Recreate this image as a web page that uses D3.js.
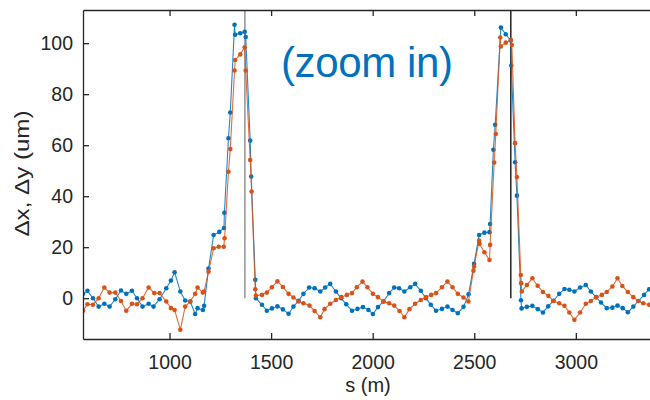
<!DOCTYPE html>
<html>
<head>
<meta charset="utf-8">
<title>Orbit difference</title>
<script src="https://cdn.jsdelivr.net/npm/d3@7"></script>
<style>
body {
	margin: 0;
	background: #fff;
}

svg text {
	font-family: "Liberation Sans", Arial, sans-serif;
	fill: #262626;
}

.axis path, .axis line {
	stroke: #262626;
	stroke-width: 1.3px;
}

.trace {
	fill: none;
	stroke-width: 1.1px;
	stroke-opacity: 0.85;
}
</style>
</head>
<body>
<div id="chart"></div>
<script>
// s positions (m) and offsets (um)
var sX = [574, 596, 623, 651, 679, 705, 733, 761, 787, 815, 840, 867, 897, 921, 951, 984,
	1007, 1025, 1053, 1077, 1102, 1126, 1138, 1164, 1170, 1192, 1217, 1245, 1268, 1270,
	1290, 1299, 1320, 1323, 1348, 1370, 1375, 1397, 1402, 1422, 1425, 1455, 1479, 1504,
	1531, 1558, 1586, 1610, 1635, 1659, 1687, 1714, 1742, 1766, 1791, 1819, 1845, 1870,
	1898, 1925, 1952, 1979, 2001, 2026, 2053, 2081, 2106, 2130, 2156, 2185, 2209, 2237,
	2262, 2286, 2312, 2341, 2368, 2393, 2419, 2447, 2472, 2499, 2524, 2550, 2575, 2578,
	2594, 2603, 2631, 2655, 2680, 2682, 2701, 2710, 2730, 2733, 2759, 2786, 2813, 2838,
	2864, 2890, 2918, 2944, 2968, 2993, 3021, 3049, 3074, 3100, 3124, 3152, 3180, 3205,
	3231, 3256, 3283, 3308, 3336, 3361, 3388];
var dx = [1.7, 2.9, 0, -3.3, -2.2, -3.3, -0.4, 3, 1.7, 2.9, 0, -3.3, -2.2, -3.3, -0.4, 3.9,
	6.9, 10.2, 2.6, -0.9, -1.3, -6.2, -3.9, -4.6, -3.0, 11.6, 24.8, 26, 27.5, 33.5,
	62.7, 72.8, 107.2, 103.3, 103.9, 104.5, 102.4, 61.8, 47.7, 7.2, 0, -2.6, -4.9, -4,
	-3.2, -4.4, -6.1, -3.3, -1, 1.7, 4.2, 3.9, 2.6, 4.2, 5.6, 2.6, 0, -2.4,
	-4.9, -4.2, -3.5, -4.6, -6.2, -3.5, -1.3, 2, 4.2, 3.9, 2.6, 4.3, 5.6, 2.9,
	0, -2.6, -4.9, -4.2, -3.3, -4.6, -5.9, -3.4, 1.5, 13.5, 24.8, 25.7, 25.9, 29.1,
	58.2, 68, 106.1, 103.5, 101, 91.2, 53.3, 40.2, -0.8, -4.0, -3.4, -3, -4.3, -5.6,
	-3.2, -1, 1.7, 3.6, 3.3, 2.6, 4.2, 5.2, 2.6, 0.4, -1.7, -3.9, -3.7, -2.9,
	-3.9, -5.5, -3.3, -1.1, 1.3, 3.5, 5];

var sY = [574, 596, 623, 651, 679, 705, 733, 761, 787, 815, 840, 867, 897, 925, 951, 984,
	1007, 1025, 1053, 1077, 1102, 1126, 1138, 1164, 1170, 1192, 1217, 1242, 1267, 1271,
	1290, 1299, 1320, 1323, 1348, 1370, 1375, 1397, 1404, 1422, 1425, 1455, 1479, 1504,
	1531, 1558, 1586, 1610, 1635, 1659, 1689, 1714, 1742, 1763, 1791, 1819, 1845, 1873,
	1898, 1922, 1950, 1974, 2001, 2026, 2053, 2081, 2106, 2132, 2156, 2181, 2209, 2237,
	2262, 2288, 2312, 2341, 2368, 2393, 2419, 2447, 2471, 2496, 2499, 2524, 2526, 2550,
	2575, 2578, 2598, 2606, 2628, 2631, 2655, 2680, 2685, 2701, 2710, 2729, 2731, 2734,
	2759, 2786, 2812, 2838, 2865, 2890, 2918, 2944, 2968, 2993, 3021, 3049, 3074, 3100,
	3128, 3152, 3180, 3205, 3229, 3256, 3283, 3308, 3332, 3361, 3388];
var dy = [-4.9, -2.4, -2.6, 0, 4.2, 2.2, 2.2, -1.1, -4.9, -2.2, -2.4, 0, 4.2, 2, 2, -1.3,
	-3.9, -4.6, -12.4, -3.3, -1.3, 1.7, 4.2, 2.2, 2.6, 10.4, 19.6, 20.2, 20.2, 23.5,
	49.6, 58.5, 89.3, 93.4, 95.6, 98.4, 89.3, 54.2, 41.8, 3.5, 1.0, 1.3, 2.2, 4.3,
	6.6, 4.4, 1.7, 0.3, -1.3, -2, -2.9, -5, -7.5, -4.3, -2.2, -0.7, 0.4, 1.3,
	2, 4.3, 6.5, 4.3, 1.7, 0.4, -1.3, -2, -2.9, -5, -7.5, -4.3, -2.2, -0.7,
	0.4, 1.3, 2, 4.3, 6.5, 4.3, 1.7, 0.3, -1.3, 10.8, 12.4, 22.6, 21.3, 18,
	15, 20.9, 53.2, 64.4, 102.2, 98.7, 100.2, 101.3, 99.3, 60.8, 47.5, 9.1, 5.9, 2.6,
	5.2, 7.8, 4.9, 2.4, 0.9, -1.1, -2, -3, -5.6, -8.5, -5.6, -2.2, -1.1, 0.4,
	1.3, 2.4, 4.6, 7.8, 4.8, 2.4, 0.4, -1.1, -2, -2.6, -3.2];

var xTicks = [1000, 1500, 2000, 2500, 3000];
var yTicks = [0, 20, 40, 60, 80, 100];
var markerS = [1371, 2680];
var markerColors = ["#808080", "#000000"];

var width = 650, height = 400;
var mLeft = 83, mRight = 651, mTop = 10, mBottom = 339;
var fontSize = "19.5px";

var svg = d3.select("#chart").append("svg")
	.attr("width", width).attr("height", height);

var x = d3.scaleLinear().domain([574, 3370]).range([mLeft, mRight]);
var y = d3.scaleLinear().domain([-16, 113]).range([mBottom, mTop]);

svg.append("defs").append("clipPath").attr("id", "plotclip")
	.append("rect").attr("x", mLeft).attr("y", mTop)
	.attr("width", mRight - mLeft).attr("height", mBottom - mTop);

var plot = svg.append("g").attr("clip-path", "url(#plotclip)");

// the two marker lines
plot.selectAll("line.mark").data(markerS).enter().append("line")
	.attr("class", "mark")
	.attr("x1", function(d) { return x(d); })
	.attr("x2", function(d) { return x(d); })
	.attr("y1", y(113)).attr("y2", y(0))
	.style("stroke", function(d, i) { return markerColors[i]; })
	.style("stroke-width", 1.3);

function drawTrace(sv, vals, color) {
	var pts = sv.map(function(s, i) { return [s, vals[i]]; });
	var line = d3.line()
		.x(function(d) { return x(d[0]); })
		.y(function(d) { return y(d[1]); });
	plot.append("path").datum(pts).attr("class", "trace")
		.attr("d", line).style("stroke", color);
	plot.append("g").selectAll("circle").data(pts).enter().append("circle")
		.attr("cx", function(d) { return x(d[0]); })
		.attr("cy", function(d) { return y(d[1]); })
		.attr("r", 2.3)
		.style("fill", color);
}

drawTrace(sX, dx, "#0072BD");
drawTrace(sY, dy, "#D95319");

// axes, ticks pointing inward like matlab
var fmt = d3.format("d");
svg.append("g").attr("class", "axis")
	.attr("transform", "translate(0," + mBottom + ")")
	.call(d3.axisBottom(x).tickValues(xTicks).tickFormat(fmt).tickSizeInner(-6)
		.tickSizeOuter(0).tickPadding(16));
svg.append("g").attr("class", "axis")
	.attr("transform", "translate(0," + mTop + ")")
	.call(d3.axisTop(x).tickValues(xTicks).tickSizeInner(-6)
		.tickSizeOuter(0).tickFormat(""));
svg.append("g").attr("class", "axis")
	.attr("transform", "translate(" + mLeft + ",0)")
	.call(d3.axisLeft(y).tickValues(yTicks).tickFormat(fmt).tickSizeInner(-6)
		.tickSizeOuter(0).tickPadding(10));

svg.selectAll(".axis").attr("font-size", null).attr("font-family", null);
svg.selectAll(".axis text").style("font-size", fontSize);

svg.append("text")
	.attr("x", 368).attr("y", 392)
	.attr("text-anchor", "middle")
	.style("font-size", "20px")
	.text("s (m)");

// matlab's tex delta is wide, so stretch the whole label a little
svg.append("text")
	.attr("transform", "translate(29,173.5) rotate(-90)")
	.attr("text-anchor", "middle")
	.attr("textLength", 126)
	.attr("lengthAdjust", "spacingAndGlyphs")
	.style("font-size", "19.5px")
	.text("\u0394x,  \u0394y (um)");

svg.append("text")
	.attr("x", 281).attr("y", 77)
	.attr("textLength", 172)
	.style("font-size", "42px")
	.style("fill", "#0072BD")
	.text("(zoom in)");
</script>
</body>
</html>
